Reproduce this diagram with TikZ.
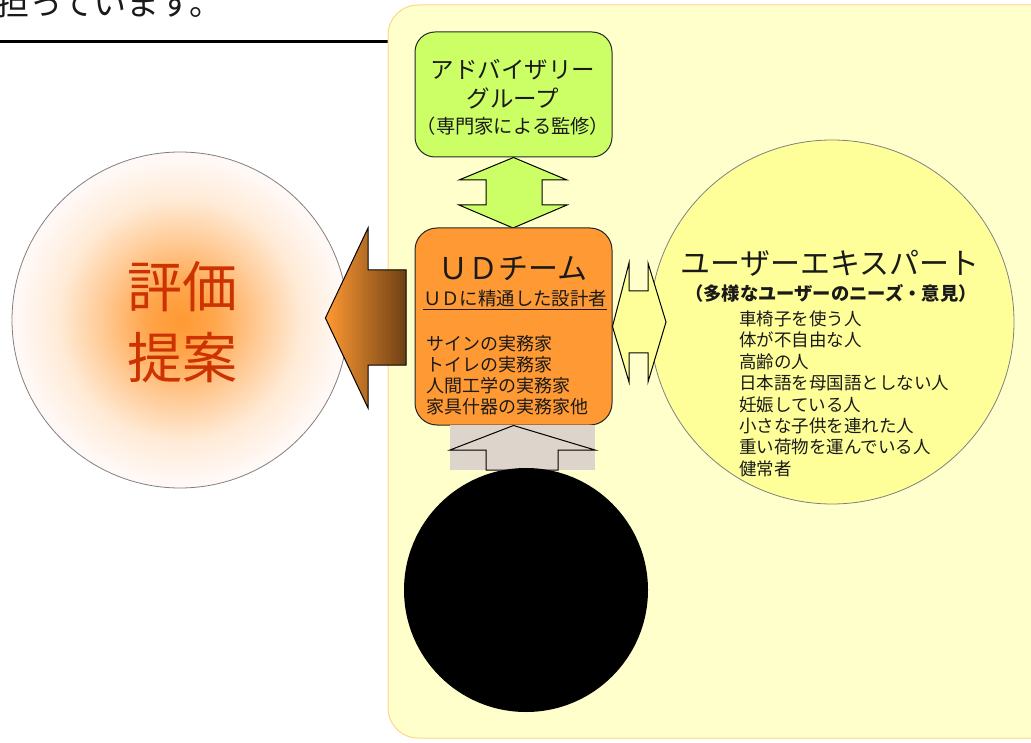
\documentclass[tikz,border=0pt]{standalone}
\usepackage{fontspec}
\setmainfont{Noto Sans CJK JP}
\definecolor{bgyellow}{HTML}{FFFFCC}
\definecolor{bgborder}{HTML}{FFD58A}
\definecolor{advgreen}{HTML}{CCFF66}
\definecolor{udorange}{HTML}{FF9933}
\definecolor{usryellow}{HTML}{FFFF99}
\definecolor{evalred}{HTML}{CC3300}
\definecolor{brownend}{HTML}{6E4014}
\definecolor{stonefill}{HTML}{DDD5CB}
\definecolor{glowedge}{HTML}{FFF8F5}
\definecolor{txt}{HTML}{1A1A1A}
\pgfdeclareradialshading{evalglow}{\pgfpoint{0bp}{0bp}}{color(0bp)=(udorange); color(5bp)=(udorange!88!white); color(12bp)=(udorange!50!white); color(18bp)=(udorange!20!white); color(24bp)=(glowedge); color(50bp)=(glowedge)}
\tikzset{
  fsz/.style={font=\fontsize{#1}{#1}\selectfont},
  boxstyle/.style={draw=black!85, line width=1pt, rounded corners=20pt, inner sep=0pt},
  blockarrow/.style={draw=black, line width=1pt, line join=miter},
  txtnode/.style={inner sep=0pt, text=txt},
}
\begin{document}
\begin{tikzpicture}[x=1pt, y=-1pt]
\useasboundingbox (0,0) rectangle (1031,743);
% top text and rule
\node[txtnode, anchor=base west, fsz=33] (toptext) at (-4,16) {担っています。};
\coordinate (ruleL) at (0,42);
\coordinate (ruleR) at (388,42);
\draw[line width=3pt] (ruleL) -- (ruleR);
% yellow background
\draw[fill=bgyellow, draw=bgborder, line width=1pt, rounded corners=30pt] (388,5) rectangle (1070,738);
% evaluation circle
\node[circle, minimum size=336pt, inner sep=0pt, draw=black!50, line width=0.8pt, shading=evalglow] (eval) at (180,320) {};
\node[inner sep=0pt, text=evalred, font=\fontsize{55}{71}\selectfont, align=center] (evaltxt) at (182,322) {評価\\提案};
% user expert circle
\node[circle, minimum size=364pt, inner sep=0pt, draw=black!50, line width=0.8pt, fill=usryellow] (user) at (832,322) {};
% advisory group box
\node[boxstyle, fill=advgreen, minimum width=197pt, minimum height=125pt] (adv) at (513.5,94.5) {};
\node[txtnode, fsz=23.5] (adv1) at (513,70) {アドバイザリー};
\node[txtnode, fsz=23.5] (adv2) at (513,98) {グループ};
\node[txtnode, fsz=19.3] (adv3) at (513,126) {（専門家による監修）};
% green double arrow
\draw[blockarrow, fill=advgreen] (adv.south) -- (567,180) -- (542,180) -- (542,205) -- (567,205) -- (513,228) -- (459,205) -- (486,205) -- (486,180) -- (459,180) -- cycle;
% UD team box
\node[boxstyle, fill=udorange, rounded corners=22pt, minimum width=197pt, minimum height=197pt] (ud) at (513.5,326.5) {};
\node[txtnode, fsz=30] (udtitle) at (513,269) {ＵＤチーム};
\node[txtnode, fsz=18.4] (udsub) at (515,300) {\underline{ＵＤに精通した設計者}};
\node[txtnode, anchor=north west, font=\fontsize{18}{21}\selectfont, align=left] (udlist) at (426,335.5) {サインの実務家\\トイレの実務家\\人間工学の実務家\\家具什器の実務家他};
% yellow horizontal double arrow
\draw[blockarrow, fill=usryellow] (ud.east) -- (629,263) -- (629,291) -- (648,291) -- (648,263) -- (666,322) -- (648,382) -- (648,353) -- (629,353) -- (629,382) -- cycle;
% user expert texts
\node[txtnode, fsz=30] (usrtitle) at (830,263) {ユーザーエキスパート};
\node[txtnode, font=\bfseries\fontsize{18.3}{18.3}\selectfont] (usrsub) at (831,293) {（多様なユーザーのニーズ・意見）};
\node[txtnode, anchor=north west, font=\fontsize{17.5}{21.4}\selectfont, align=left] (usrlist) at (739,310.5) {車椅子を使う人\\体が不自由な人\\高齢の人\\日本語を母国語としない人\\妊娠している人\\小さな子供を連れた人\\重い荷物を運んでいる人\\健常者};
% stone up arrow
\fill[stonefill] (450,425) rectangle (595,470);
\draw[blockarrow] (ud.south) -- (595,450) -- (558,450) -- (558,470) -- (486,470) -- (486,450) -- (450,450) -- cycle;
% black circle
\node[circle, fill=black, minimum size=244pt, inner sep=0pt] (blackc) at (526,590) {};
% brown left arrow
\shade[left color=udorange, right color=brownend, draw=black, line width=1pt] (eval.east) ++(-23,-2) coordinate (evtip) -- (368,228) -- (368,270) -- (406,270) -- (406,365) -- (368,365) -- (368,408) -- cycle;
\end{tikzpicture}
\end{document}
